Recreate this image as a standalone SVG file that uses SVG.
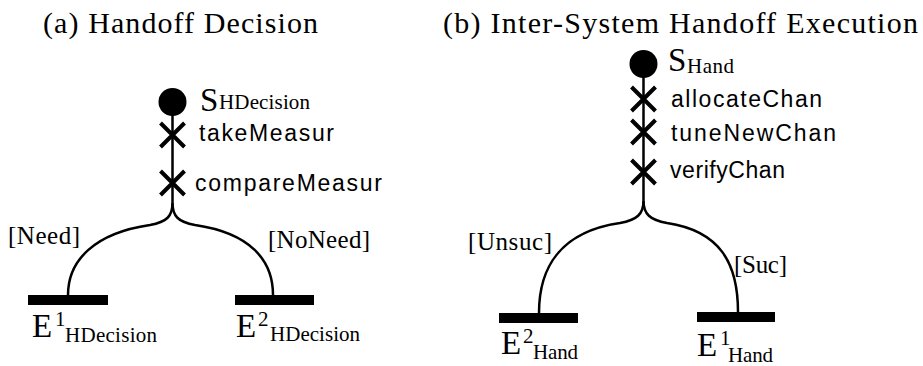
<svg xmlns="http://www.w3.org/2000/svg" width="923" height="366" viewBox="0 0 923 366">
<style>
.title{font-family:"Liberation Serif","Times New Roman",serif;font-size:30px;fill:#000}
.act{font-family:"Liberation Sans",Arial,sans-serif;font-size:23px;fill:#000}
.guard{font-family:"Liberation Serif","Times New Roman",serif;font-size:25px;fill:#000}
.big{font-family:"Liberation Serif","Times New Roman",serif;font-size:33px;fill:#000}
.sub{font-family:"Liberation Serif","Times New Roman",serif;font-size:21px;fill:#000}
.wire{fill:none;stroke:#000;stroke-width:2.5}
.x{stroke:#000;stroke-width:4;fill:none}
.bar{fill:#000}
</style>
<defs>
<g id="xmark"><path class="x" d="M-12,-12L12,12M12,-12L-12,12"/></g>
</defs>
<text class="title" x="43" y="33" textLength="275" lengthAdjust="spacing">(a) Handoff Decision</text>
<text class="title" x="443" y="33" textLength="475" lengthAdjust="spacing">(b) Inter-System Handoff Execution</text>
<g id="connectors">
<path class="wire" d="M172.5,102V203"/>
<path class="wire" d="M172.5,203C172.5,216 167,222 150,225C95,233 68,260 68,295"/>
<path class="wire" d="M172.5,203C172.5,216 178,222 195,225C250,233 273,260 273,295"/>
<path class="wire" d="M643.5,64V201"/>
<path class="wire" d="M643.5,201C643.5,214 637,220 620,223C565,231 539,263 539,313"/>
<path class="wire" d="M643.5,201C643.5,214 650,220 667,223C720,231 738,263 738,312"/>
</g>
<g id="start-hdecision">
<circle cx="172.5" cy="102" r="14"/>
<text class="big" x="200" y="111">S</text>
<text class="sub" x="219" y="109" textLength="91" lengthAdjust="spacing">HDecision</text>
</g>
<g id="act-takeMeasur">
<use href="#xmark" x="172.5" y="135"/>
<text class="act" x="199" y="141" textLength="135" lengthAdjust="spacing">takeMeasur</text>
</g>
<g id="act-compareMeasur">
<use href="#xmark" x="172.5" y="183"/>
<text class="act" x="195" y="191" textLength="187" lengthAdjust="spacing">compareMeasur</text>
</g>
<g id="guard-need"><text class="guard" x="8" y="244" textLength="72" lengthAdjust="spacing">[Need]</text></g>
<g id="guard-noneed"><text class="guard" x="268" y="248" textLength="102" lengthAdjust="spacing">[NoNeed]</text></g>
<g id="end1-hdecision">
<rect class="bar" x="28" y="295" width="80" height="10"/>
<text class="big" x="32" y="337">E</text>
<text class="sub" x="55" y="326">1</text>
<text class="sub" x="65" y="342" textLength="92" lengthAdjust="spacing">HDecision</text>
</g>
<g id="end2-hdecision">
<rect class="bar" x="235" y="295" width="79" height="10"/>
<text class="big" x="236" y="337">E</text>
<text class="sub" x="258" y="326">2</text>
<text class="sub" x="270" y="341" textLength="90" lengthAdjust="spacing">HDecision</text>
</g>
<g id="start-hand">
<circle cx="643.5" cy="64" r="14"/>
<text class="big" x="668" y="71">S</text>
<text class="sub" x="687" y="73" textLength="47" lengthAdjust="spacing">Hand</text>
</g>
<g id="act-allocateChan">
<use href="#xmark" x="643.5" y="99"/>
<text class="act" x="671" y="107" textLength="151" lengthAdjust="spacing">allocateChan</text>
</g>
<g id="act-tuneNewChan">
<use href="#xmark" x="643.5" y="132"/>
<text class="act" x="671" y="141" textLength="165" lengthAdjust="spacing">tuneNewChan</text>
</g>
<g id="act-verifyChan">
<use href="#xmark" x="643.5" y="172"/>
<text class="act" x="670" y="178" textLength="115" lengthAdjust="spacing">verifyChan</text>
</g>
<g id="guard-unsuc"><text class="guard" x="468" y="250" textLength="84" lengthAdjust="spacing">[Unsuc]</text></g>
<g id="guard-suc"><text class="guard" x="734" y="273" textLength="53" lengthAdjust="spacing">[Suc]</text></g>
<g id="end2-hand">
<rect class="bar" x="499" y="313" width="79" height="10"/>
<text class="big" x="501" y="354">E</text>
<text class="sub" x="523" y="343">2</text>
<text class="sub" x="533" y="359" textLength="45" lengthAdjust="spacing">Hand</text>
</g>
<g id="end1-hand">
<rect class="bar" x="697" y="312" width="78" height="10"/>
<text class="big" x="697" y="356">E</text>
<text class="sub" x="720" y="345">1</text>
<text class="sub" x="728" y="362" textLength="45" lengthAdjust="spacing">Hand</text>
</g>
</svg>
